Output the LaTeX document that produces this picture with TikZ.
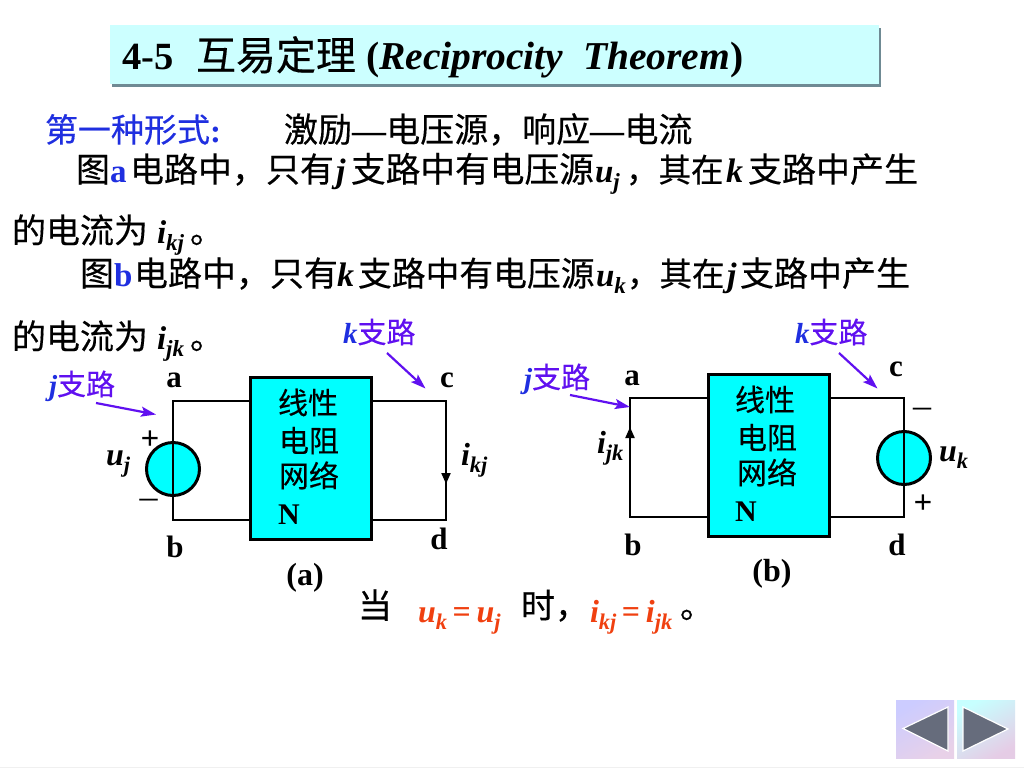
\documentclass[tikz,border=0pt]{standalone}
\usepackage{fontspec}
\setmainfont{Liberation Serif}
\newfontfamily\cjk[FakeBold=0.35]{Noto Sans CJK SC}
\definecolor{boxcyan}{HTML}{00FFFF}
\definecolor{titlefill}{HTML}{CCFFFF}
\definecolor{titleshadow}{HTML}{6F8A94}
\definecolor{headblue}{HTML}{1F2FE0}
\definecolor{branchpurple}{HTML}{6010F0}
\definecolor{hot}{HTML}{F04010}
\definecolor{navgrey}{HTML}{666C7C}
\newcommand{\fs}[1]{\fontsize{#1}{#1}\selectfont}
\newcommand{\zh}[1]{{\mdseries\upshape\cjk #1}}
\newcommand{\bv}[1]{{\bfseries\itshape #1}}
\newcommand{\sv}[3][33]{{\fs{#1}\bfseries\itshape #2\raisebox{-0.22em}{\fontsize{\dimexpr #1pt*7/10\relax}{1pt}\selectfont #3}}}
\usetikzlibrary{arrows.meta,shadings}
\tikzset{
  txt/.style={anchor=base west,inner sep=0pt,outer sep=0pt,font=\fs{34}},
  mid/.style={anchor=base,inner sep=0pt,outer sep=0pt,font=\fs{31}\bfseries},
  wire/.style={line width=2pt,line cap=rect},
  netbox/.style={draw=black,line width=3pt,fill=boxcyan,anchor=north west,inner sep=0pt,minimum width=121pt,minimum height=162pt},
  srcnode/.style={circle,draw=black,line width=3pt,fill=boxcyan,minimum size=53pt,inner sep=0pt},
  pointer/.style={draw=branchpurple,line width=2.2pt,-{Stealth[length=15pt,width=10pt,inset=3pt]}},
  current/.style={line width=2pt,-{Triangle[length=11pt,width=9pt]}}
}
\begin{document}
\begin{tikzpicture}[x=1pt,y=-1pt]
\useasboundingbox (0,0) rectangle (1024,768);
\fill[white] (0,0) rectangle (1024,768);
\fill[black!6] (0,767) rectangle (1024,768);
% title
\fill[titleshadow] (112,28) rectangle (881,87);
\fill[titlefill] (110,25) rectangle (879,84);
\node[txt,font=\fs{38.5}\bfseries] (t1) at (122,70) {4-5};
\node[txt,font=\fs{40}] (t2) at (196,70) {\zh{互易定理}};
\node[txt,font=\fs{39.5}\bfseries] (t3) at (366,70) {(\textit{Reciprocity\ \ Theorem})};
% heading
\node[txt,text=headblue,font=\fs{33}] (h1) at (45,142) {\zh{第一种形式}\textbf{:}};
\node[txt] (h2) at (284,142) {\zh{激励}\textbf{—}\zh{电压源，响应}\textbf{—}\zh{电流}};
% line 2
\node[txt] (l2a) at (76,182) {\zh{图}};
\node[txt,text=headblue,font=\fs{33}\bfseries] (l2b) at (110,182) {a};
\node[txt] (l2c) at (130,182) {\zh{电路中，只有}};
\node[txt] (l2d) at (336,182) {\bv{j}};
\node[txt,font=\fs{34.7}] (l2e) at (351,182) {\zh{支路中有电压源}};
\node[txt] (l2f) at (595,182) {\sv{u}{j}};
\node[txt,font=\fs{32.5}] (l2g) at (626,182) {\zh{，其在}};
\node[txt] (l2h) at (726,182) {\bv{k}};
\node[txt] (l2i) at (748,182) {\zh{支路中产生}};
% line 3
\node[txt] (l3a) at (12,243) {\zh{的电流为}};
\node[txt] (l3b) at (157,243) {\sv{i}{kj}};
\node[txt] (l3c) at (190,243) {\zh{。}};
% line 4
\node[txt] (l4a) at (80,286) {\zh{图}};
\node[txt,text=headblue,font=\fs{33}\bfseries] (l4b) at (114,286) {b};
\node[txt] (l4c) at (134,286) {\zh{电路中，只有}};
\node[txt] (l4d) at (337,286) {\bv{k}};
\node[txt,font=\fs{33.8}] (l4e) at (358,286) {\zh{支路中有电压源}};
\node[txt] (l4f) at (596,286) {\sv{u}{k}};
\node[txt,font=\fs{32.5}] (l4g) at (627,286) {\zh{，其在}};
\node[txt] (l4h) at (727,286) {\bv{j}};
\node[txt] (l4i) at (740,286) {\zh{支路中产生}};
% line 5
\node[txt] (l5a) at (12,349) {\zh{的电流为}};
\node[txt] (l5b) at (157,349) {\sv{i}{jk}};
\node[txt] (l5c) at (190,349) {\zh{。}};
% circuit a
\coordinate (aTL) at (173,401);
\coordinate (aBL) at (173,520);
\coordinate (aTR) at (446,401);
\coordinate (aBR) at (446,520);
\coordinate (aCur) at (446,484);
\node[netbox] (Na) at (249,375.5) {};
\draw[wire] (Na.west |- aTL) -- (aTL) -- (aBL) -- (Na.west |- aBL);
\draw[wire] (Na.east |- aTR) -- (aTR) -- (aBR) -- (Na.east |- aBR);
\draw[current] (aTR) -- (aCur);
\node[srcnode] (Sa) at (173,469) {};
\draw[wire] (aTL) -- (aBL);
\node[txt,font=\fs{30}] (Na1) at (278,414) {\zh{线性}};
\node[txt,font=\fs{30}] (Na2) at (279,452) {\zh{电阻}};
\node[txt,font=\fs{30}] (Na3) at (279,487) {\zh{网络}};
\node[txt,font=\fs{30}\bfseries] (Na4) at (278,524) {N};
\node[mid] (la) at (174,387) {a};
\node[mid] (lb) at (175,557) {b};
\node[mid] (lc) at (447,387) {c};
\node[mid] (ld) at (439,549) {d};
\node[mid,font=\fs{32}\bfseries] (lcapa) at (305,585) {(a)};
\node[txt] (uj) at (106,465) {\sv[32]{u}{j}};
\node[txt] (ikj) at (461,465) {\sv[32]{i}{kj}};
\node[mid,font=\fs{33}\bfseries] (pa) at (150,449) {+};
\node[mid,font=\fs{36}] (ma) at (148.5,508) {–};
\node[txt,font=\fs{29}] (ja) at (49,395) {\textcolor{headblue}{\bv{j}}\textcolor{branchpurple}{\zh{支路}}};
\node[txt,font=\fs{29}] (ka) at (343,343) {\textcolor{headblue}{\bv{k}}\textcolor{branchpurple}{\zh{支路}}};
\coordinate (jaS) at (96,403);
\coordinate (jaE) at (156,414.5);
\coordinate (kaS) at (387,353);
\coordinate (kaE) at (425.5,388.5);
\draw[pointer] (jaS) -- (jaE);
\draw[pointer] (kaS) -- (kaE);
\node[mid,font=\fs{32}\bfseries] (lcapb) at (772,581) {(b)};
% circuit b
\coordinate (bTL) at (630,398);
\coordinate (bBL) at (630,517);
\coordinate (bTR) at (904,398);
\coordinate (bBR) at (904,517);
\coordinate (bCur) at (630,427);
\node[netbox] (Nb) at (706.5,372.5) {};
\draw[wire] (Nb.west |- bTL) -- (bTL) -- (bBL) -- (Nb.west |- bBL);
\draw[wire] (Nb.east |- bTR) -- (bTR) -- (bBR) -- (Nb.east |- bBR);
\draw[current] (bBL) -- (bCur);
\node[srcnode] (Sb) at (904,458) {};
\draw[wire] (bTR) -- (bBR);
\node[txt,font=\fs{30}] (Nb1) at (735,411) {\zh{线性}};
\node[txt,font=\fs{30}] (Nb2) at (737,449) {\zh{电阻}};
\node[txt,font=\fs{30}] (Nb3) at (737,484) {\zh{网络}};
\node[txt,font=\fs{30}\bfseries] (Nb4) at (735,521) {N};
\node[mid] (la2) at (632,385) {a};
\node[mid] (lb2) at (633,555) {b};
\node[mid] (lc2) at (896,376) {c};
\node[mid] (ld2) at (897,555) {d};
\node[txt] (ijk) at (597,453) {\sv[32]{i}{jk}};
\node[txt] (uk) at (939,461) {\sv[32]{u}{k}};
\node[mid,font=\fs{36}] (mb) at (922,417) {–};
\node[mid,font=\fs{33}\bfseries] (pb) at (923,513) {+};
\node[txt,font=\fs{29}] (jb) at (524,388) {\textcolor{headblue}{\bv{j}}\textcolor{branchpurple}{\zh{支路}}};
\node[txt,font=\fs{29}] (kb) at (795,343) {\textcolor{headblue}{\bv{k}}\textcolor{branchpurple}{\zh{支路}}};
\coordinate (jbS) at (570,395);
\coordinate (jbE) at (630,407);
\coordinate (kbS) at (839,353);
\coordinate (kbE) at (877.5,388.5);
\draw[pointer] (jbS) -- (jbE);
\draw[pointer] (kbS) -- (kbE);
% bottom
\node[txt] (b1) at (358,618) {\zh{当}};
\node[txt,text=hot] (b2) at (418,622) {\sv[32]{u}{k}\,\textbf{\fs{32}=}\,\sv[32]{u}{j}};
\node[txt] (b3) at (521,618) {\zh{时，}};
\node[txt,text=hot] (b4) at (590,622) {\sv[32]{i}{kj}\,\textbf{\fs{32}=}\,\sv[32]{i}{jk}};
\node[txt] (b5) at (680,618) {\zh{。}};
% nav
\shade[left color=blue!20!white,right color=violet!18!white,shading angle=30] (896,700) rectangle (954,758);
\shade[left color=cyan!22!white,right color=violet!20!white,shading angle=30] (957,700) rectangle (1015,758);
\filldraw[fill=navgrey,draw=white,line width=1.2pt] (948,707) -- (903,728.5) -- (948,751) -- cycle;
\filldraw[fill=navgrey,draw=white,line width=1.2pt] (963,707) -- (1008,729) -- (963,751) -- cycle;
\end{tikzpicture}
\end{document}
